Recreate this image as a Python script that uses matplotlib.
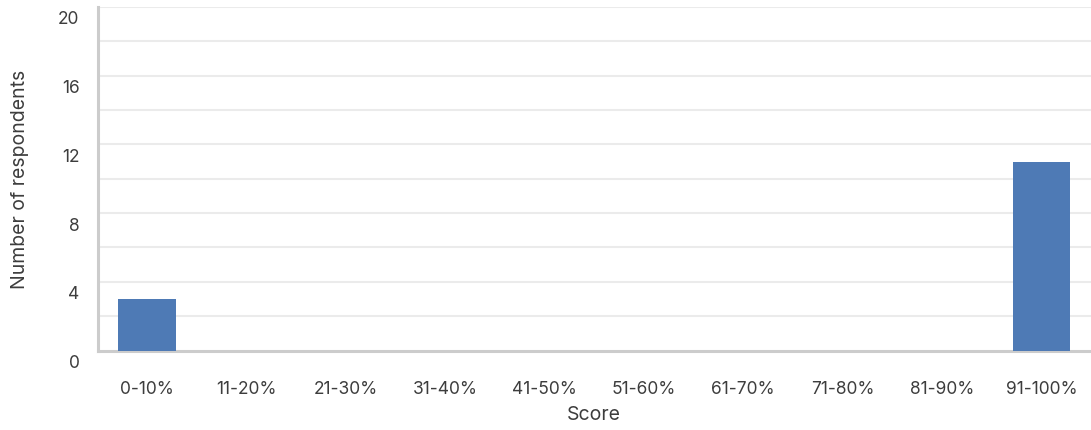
import matplotlib
matplotlib.use("Agg")
import matplotlib.pyplot as plt
import matplotlib.transforms as mtransforms

categories = ["0-10%", "11-20%", "21-30%", "31-40%", "41-50%", "51-60%",
              "61-70%", "71-80%", "81-90%", "91-100%"]
respondents = [3, 0, 0, 0, 0, 0, 0, 0, 0, 11]
y_major = [0, 4, 8, 12, 16, 20]
y_grid = [2, 4, 6, 8, 10, 12, 14, 16, 18, 20]

plt.rcParams['font.family'] = ['Inter', 'DejaVu Sans']
text_color = "#3d3d3d"

fig = plt.figure(figsize=(10.91, 4.31), dpi=100)
ax = fig.add_axes([97.5 / 1091, 1 - 351.5 / 431, 993.5 / 1091, 343.5 / 431])

x = list(range(len(categories)))
ax.bar(x, respondents, width=0.58, color="#4e7ab5", zorder=3)

ax.set_xlim(-0.5, len(categories) - 0.5)
ax.set_ylim(0, 20)
for g in y_grid:
    ax.axhline(g, color="#ebebeb", lw=1.5, zorder=1)

ax.set_yticks(y_major)
ax.set_yticklabels([str(v) for v in y_major])
ax.set_xticks(x)
ax.set_xticklabels(categories)
ax.tick_params(axis="both", length=0, labelsize=12.5, colors=text_color)
ax.tick_params(axis="y", pad=13)
ax.tick_params(axis="x", pad=21)
offset = mtransforms.ScaledTranslation(0, -10 / 100, fig.dpi_scale_trans)
for lbl in ax.get_yticklabels():
    lbl.set_transform(lbl.get_transform() + offset)

for s in ["top", "right"]:
    ax.spines[s].set_visible(False)
for s in ["left", "bottom"]:
    ax.spines[s].set_color("#cccccc")
    ax.spines[s].set_linewidth(2.2)

ax.set_ylabel("Number of respondents", fontsize=14, color=text_color)
ax.set_xlabel("Score", fontsize=14, color=text_color, labelpad=6)
ax.yaxis.set_label_coords(-68 / 993.5, 0.5)

fig.savefig("out.png", dpi=100)
